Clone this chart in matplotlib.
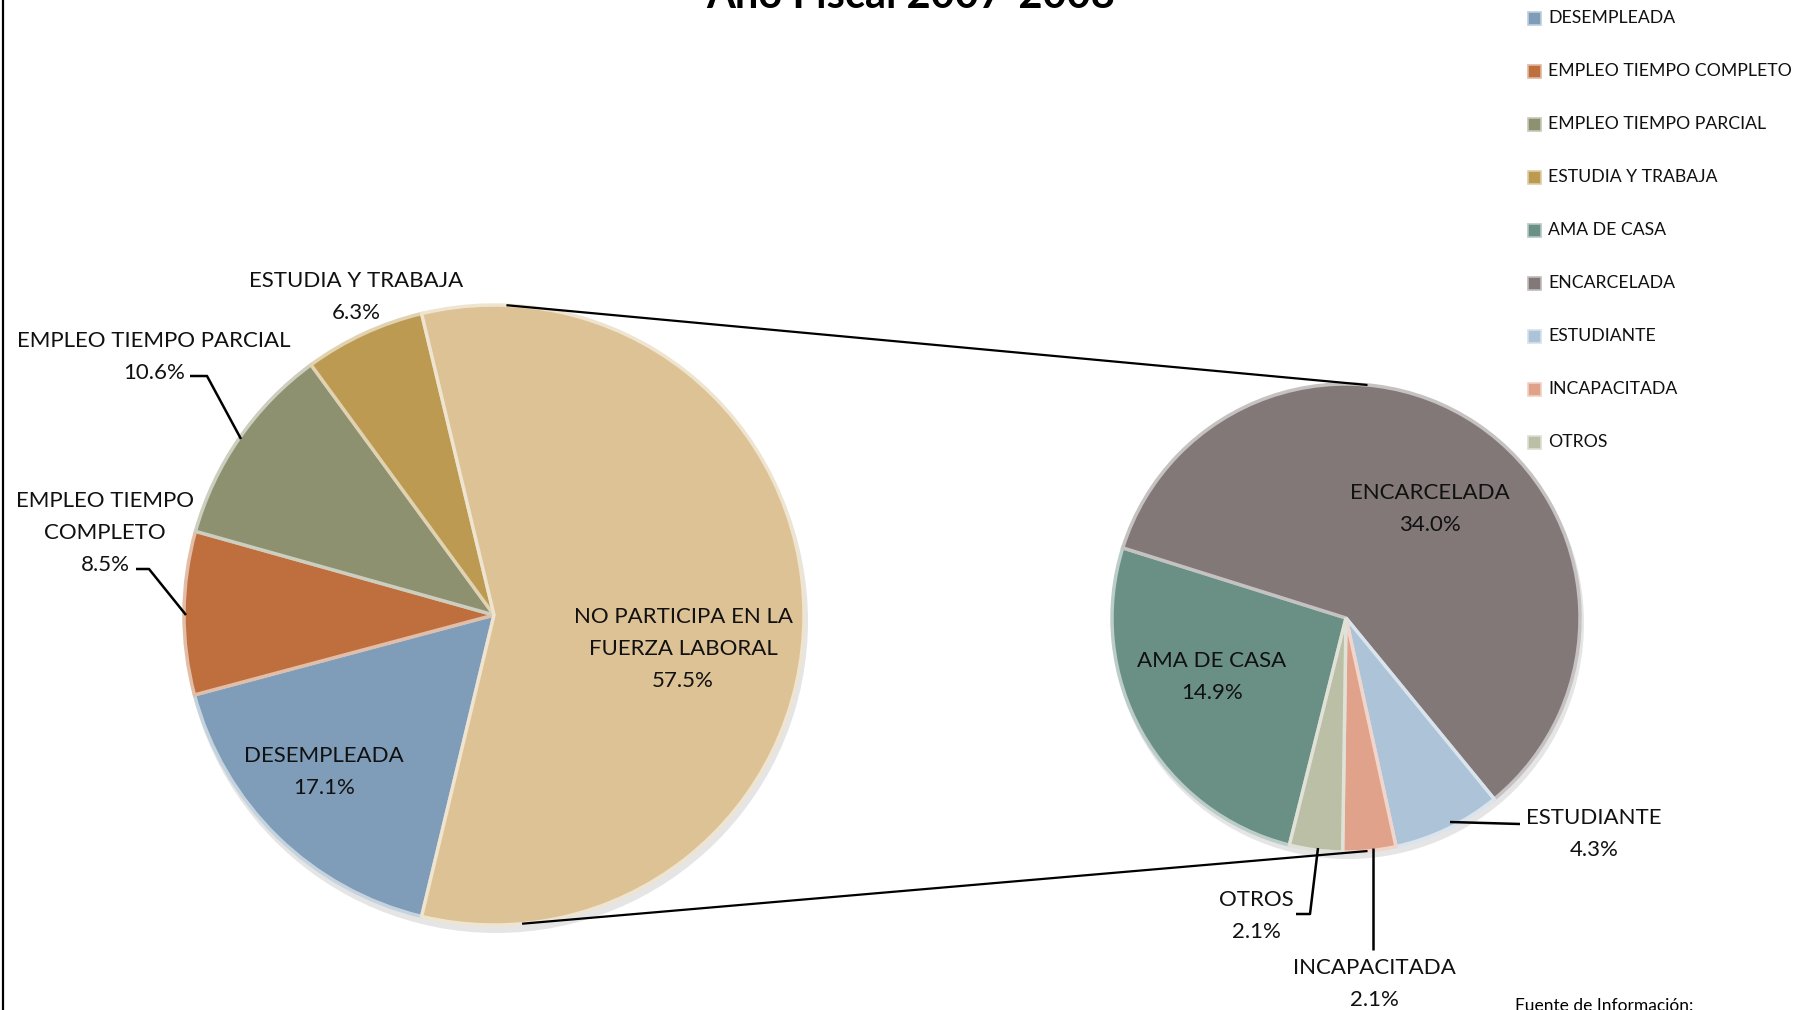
import matplotlib
matplotlib.use('Agg')
import matplotlib.pyplot as plt
from matplotlib.patches import Rectangle, Circle
from matplotlib.colors import to_rgb
import numpy as np

# ---------------- data ----------------
title_text = 'Año Fiscal 2007-2008'
source_text = 'Fuente de Información:'

main_labels = ['DESEMPLEADA', 'EMPLEO TIEMPO COMPLETO', 'EMPLEO TIEMPO PARCIAL',
               'ESTUDIA Y TRABAJA', 'NO PARTICIPA EN LA FUERZA LABORAL']
main_values = [17.1, 8.5, 10.6, 6.3, 57.5]

sec_labels = ['AMA DE CASA', 'ENCARCELADA', 'ESTUDIANTE', 'INCAPACITADA', 'OTROS']
sec_values = [14.9, 34.0, 4.3, 2.1, 2.1]

legend_labels = main_labels[:4] + sec_labels

# ---------------- style ----------------
main_colors = ['#7F9DB8', '#BF6F3E', '#8E9170', '#BD9A51', '#DCC295']
sec_colors = ['#6A9086', '#817877', '#ADC3D8', '#E0A28A', '#BBBFA6']

FONT = ['Lato', 'DejaVu Sans']
plt.rcParams['font.family'] = FONT

W, H = 1802, 1010
fig = plt.figure(figsize=(W / 100, H / 100), dpi=100)
ax = fig.add_axes([0, 0, 1, 1])

def Y(y):
    return H - y

def light(c, f=0.45):
    r, g, b = to_rgb(c)
    return (r + (1 - r) * f, g + (1 - g) * f, b + (1 - b) * f)

# pie geometry (pixels)
mc = (494, Y(615)); mr = 310
sc = (1346, Y(618)); sr = 234

# shadows
ax.add_patch(Circle((mc[0] + 2, mc[1] - 6), mr + 2, color='#000000', alpha=0.10, lw=0, zorder=0))
ax.add_patch(Circle((sc[0] + 2, sc[1] - 5), sr + 2, color='#000000', alpha=0.10, lw=0, zorder=0))

main_start = -main_values[-1] / sum(main_values) * 180
wm, _ = ax.pie(main_values, colors=main_colors, center=mc, radius=mr,
               startangle=main_start, counterclock=False,
               wedgeprops=dict(linewidth=2.5))
for w, c in zip(wm, main_colors):
    w.set_edgecolor(light(c, 0.55))
    w.set_zorder(2)

ws, _ = ax.pie(sec_values, colors=sec_colors, center=sc, radius=sr,
               startangle=-104, counterclock=False,
               wedgeprops=dict(linewidth=2.5))
for w, c in zip(ws, sec_colors):
    w.set_edgecolor(light(c, 0.55))
    w.set_zorder(2)

# connector lines between pies
def pt(center, r, ang):
    a = np.deg2rad(ang)
    return center[0] + r * np.cos(a), center[1] + r * np.sin(a)

p1 = pt(mc, mr, 87.5); p2 = pt(sc, sr, 85)
p3 = pt(mc, mr, -84.6); p4 = pt(sc, sr, -85)
ax.plot([p1[0], p2[0]], [p1[1], p2[1]], color='black', lw=1.6, zorder=3)
ax.plot([p3[0], p4[0]], [p3[1], p4[1]], color='black', lw=1.6, zorder=3)

# ---------------- labels ----------------
fs = 16
ls = 1.72

def pct(v):
    return f'{v:.1f}%'

def lab(x, y, txt):
    ax.text(x, Y(y), txt, ha='center', va='center', fontsize=fs,
            linespacing=ls, color='#111111', zorder=5)

lab(356, 297, f'{main_labels[3]}\n{pct(main_values[3])}')
lab(154, 357, f'{main_labels[2]}\n{pct(main_values[2])}')
lab(105, 533, 'EMPLEO TIEMPO\nCOMPLETO\n' + pct(main_values[1]))
lab(324, 772, f'{main_labels[0]}\n{pct(main_values[0])}')
lab(683, 649, 'NO PARTICIPA EN LA\nFUERZA LABORAL\n' + pct(main_values[4]))

lab(1430, 509, f'{sec_labels[1]}\n{pct(sec_values[1])}')
lab(1212, 677, f'{sec_labels[0]}\n{pct(sec_values[0])}')
lab(1594, 834, f'{sec_labels[2]}\n{pct(sec_values[2])}')
lab(1256, 916, f'{sec_labels[4]}\n{pct(sec_values[4])}')
lab(1374, 984, f'{sec_labels[3]}\n{pct(sec_values[3])}')

# leader lines
def leader(pts):
    xs = [p[0] for p in pts]
    ys = [Y(p[1]) for p in pts]
    ax.plot(xs, ys, color='black', lw=1.8, zorder=4, solid_capstyle='butt')

leader([(190, 376), (207, 376), (241, 439)])
leader([(136, 569), (149, 569), (186, 615)])
leader([(1450, 822), (1520, 824)])
leader([(1296, 914), (1310, 914), (1318, 848)])
leader([(1373, 950), (1373, 848)])

# ---------------- legend ----------------
all_colors = main_colors[:4] + sec_colors
for i, (lbl, c) in enumerate(zip(legend_labels, all_colors)):
    yy = 18 + i * 53
    ax.add_patch(Rectangle((1528, Y(yy) - 6.5), 13, 13, facecolor=c,
                           edgecolor=light(c, 0.5), lw=1.2, zorder=5))
    ax.text(1548, Y(yy), lbl, ha='left', va='center', fontsize=12.7,
            color='#111111', zorder=5)

# ---------------- title / source / border ----------------
ax.text(911, Y(8), title_text, ha='center', va='baseline', fontsize=30,
        fontweight='bold', color='black', zorder=5)
ax.text(1515, Y(998), source_text, ha='left', va='top', fontsize=12.5,
        color='black', zorder=5)
ax.plot([3, 3], [0, H], color='black', lw=1.6, zorder=5)

ax.set_xlim(0, W)
ax.set_ylim(0, H)
ax.set_aspect('equal')
ax.axis('off')

fig.savefig('out.png', dpi=100, facecolor='white')
